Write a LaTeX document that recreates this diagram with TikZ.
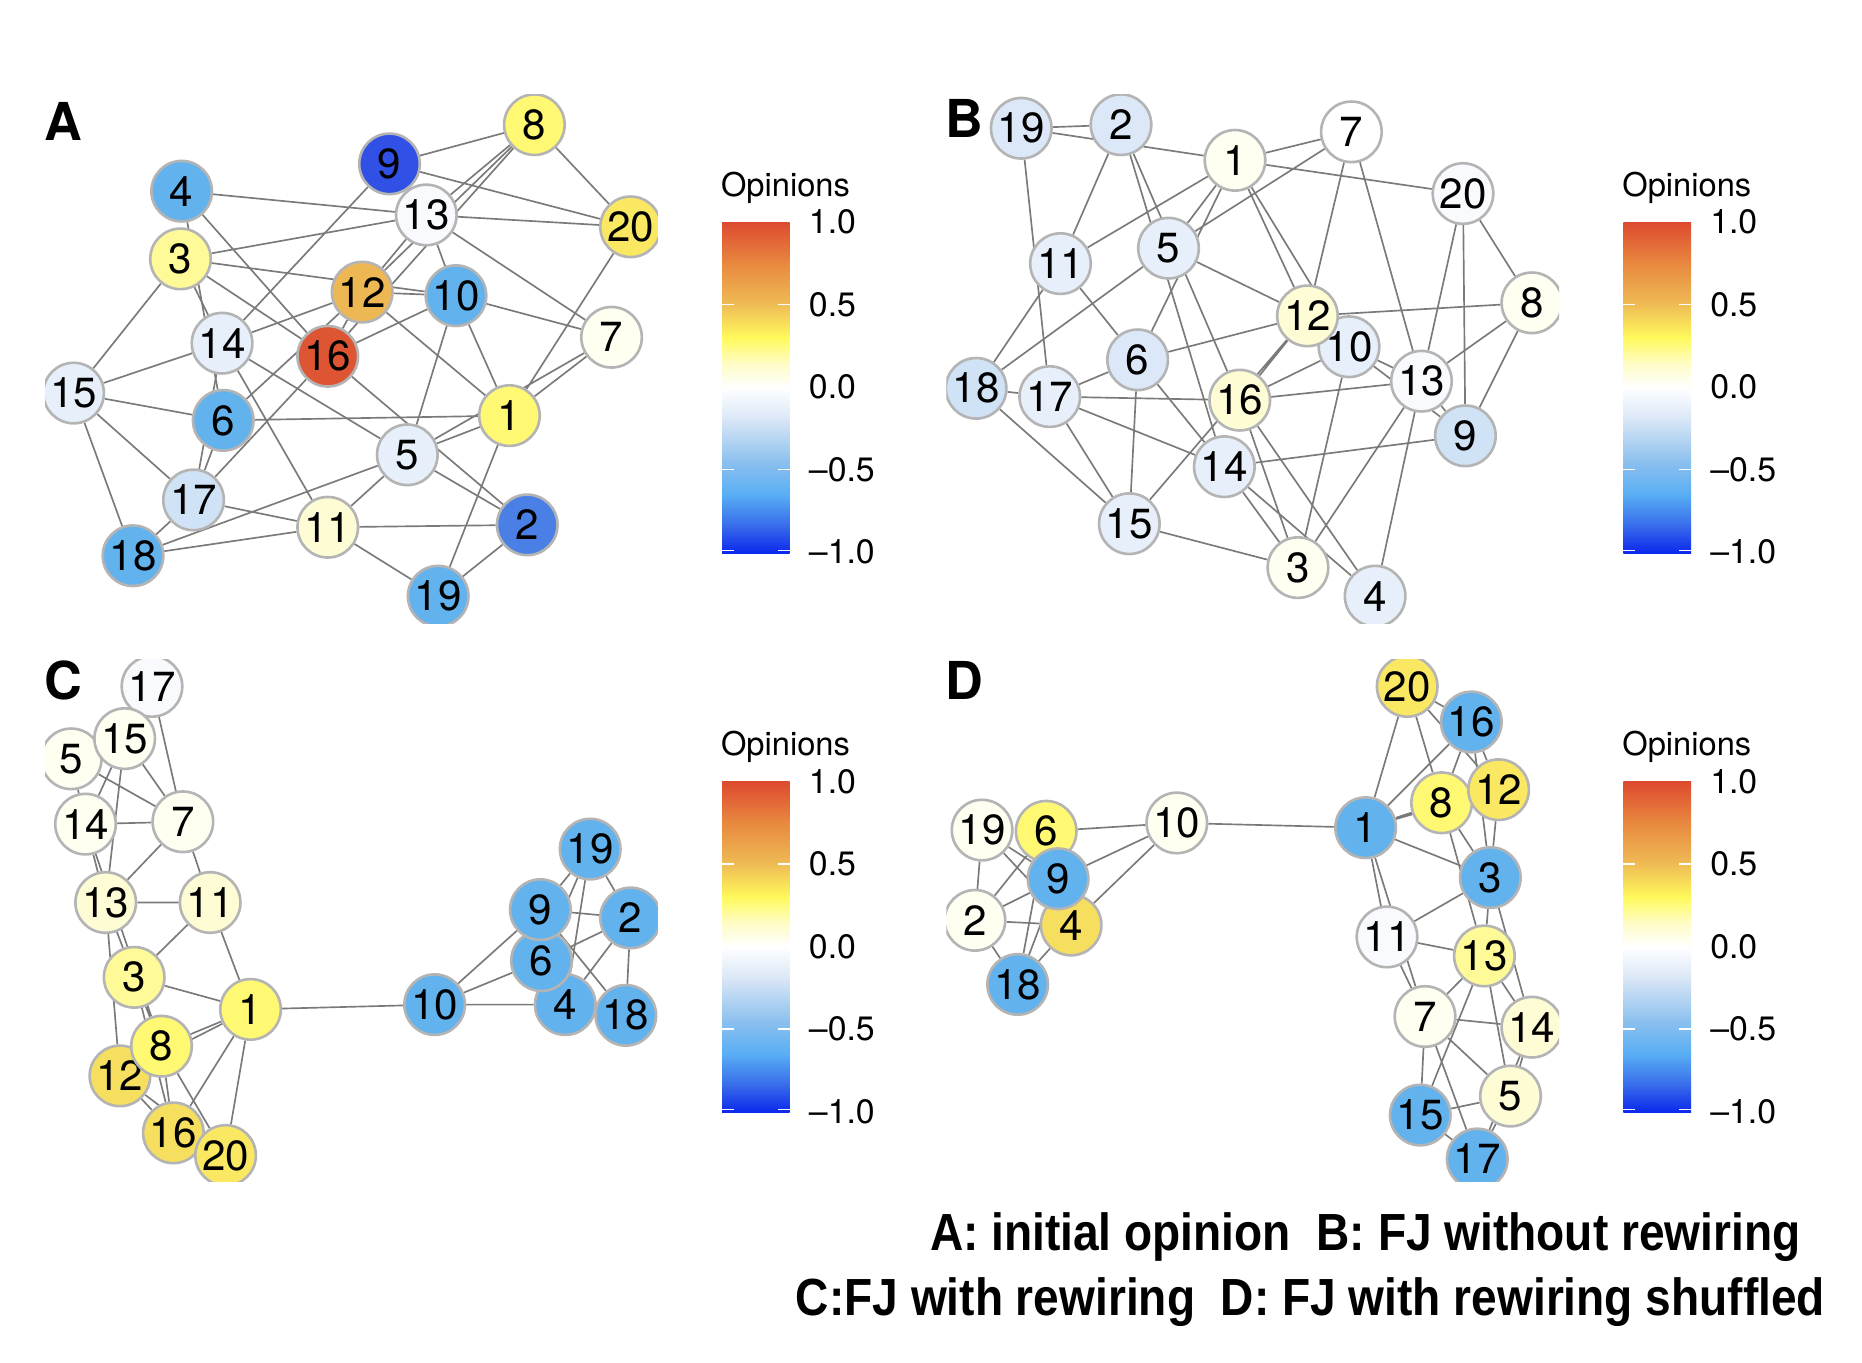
\documentclass[tikz,border=0pt]{standalone}
\usepackage{fontspec}
\setmainfont{TeX Gyre Heros}
\newfontfamily\capfont{Liberation Sans}
\pgfdeclarelayer{paper}
\pgfdeclarelayer{edges}
\pgfsetlayers{paper,edges,main}

\definecolor{edgegray}{HTML}{7A7A7A}
\definecolor{ringgray}{HTML}{B4B4B4}
\definecolor{opnavy}{HTML}{3150E6}
\definecolor{opcobalt}{HTML}{4A80E6}
\definecolor{opsky}{HTML}{62B2EE}
\definecolor{opice}{HTML}{CFE2F6}
\definecolor{opfrost}{HTML}{DCE8F8}
\definecolor{opmist}{HTML}{E7F0FA}
\definecolor{opsnow}{HTML}{F8FAFE}
\definecolor{opcream}{HTML}{FEFEF1}
\definecolor{oplinen}{HTML}{FEFCD4}
\definecolor{oplemon}{HTML}{FFFA98}
\definecolor{opyellow}{HTML}{FFF872}
\definecolor{opgold}{HTML}{FBE862}
\definecolor{opamber}{HTML}{F6DE5E}
\definecolor{oporange}{HTML}{EDB853}
\definecolor{opred}{HTML}{DE5533}
% colour bar stops
\definecolor{cbA}{HTML}{DD4A2F}
\definecolor{cbB}{HTML}{E8883F}
\definecolor{cbC}{HTML}{EFBC55}
\definecolor{cbD}{HTML}{FFFA5C}
\definecolor{cbE}{HTML}{FFFCC4}
\definecolor{cbF}{HTML}{FFFFFF}
\definecolor{cbG}{HTML}{D8E6F6}
\definecolor{cbH}{HTML}{8CC0EE}
\definecolor{cbI}{HTML}{58AEF4}
\definecolor{cbJ}{HTML}{3466EA}
\definecolor{cbK}{HTML}{0A28EC}

\begin{document}
\begin{tikzpicture}[x=1pt,y=-1pt,
  opn/.style={circle, draw=ringgray, line width=2.2pt, fill=#1, minimum size=51pt, inner sep=0pt, font=\fontsize{35.5}{35.5}\selectfont},
  link/.style={draw=edgegray, line width=1.4pt},
  panel/.style={inner sep=0pt, font=\fontsize{44}{44}\selectfont\bfseries},
  barlbl/.style={anchor=west, inner sep=0pt, font=\fontsize{28.5}{28.5}\selectfont},
  barnotch/.style={white, line width=1.2pt},
  keytext/.style={anchor=base west, inner sep=0pt, xscale=0.882, font=\capfont\bfseries\fontsize{44}{46}\selectfont}]

\begin{pgfonlayer}{paper}
\fill[white] (0,0) rectangle (1568,1147);
\end{pgfonlayer}
\useasboundingbox (0,0) rectangle (1568,1147);

%%%%% A: initial opinion
\node[panel] (labA) at (53,102) {A};
\begin{scope}
\clip (38,80) rectangle (554,525);
\node[opn=opyellow] (A8) at (450,105) {8};
\node[opn=opnavy] (A9) at (328,138) {9};
\node[opn=opsky] (A4) at (153,161) {4};
\node[opn=opsnow] (A13) at (359,181) {13};
\node[opn=opgold] (A20) at (531,191) {20};
\node[opn=oplemon] (A3) at (152,218) {3};
\node[opn=oporange] (A12) at (305,246) {12};
\node[opn=opsky] (A10) at (384,249) {10};
\node[opn=opcream] (A7) at (515,284) {7};
\node[opn=opmist] (A14) at (187,289) {14};
\node[opn=opred] (A16) at (276,300) {16};
\node[opn=opmist] (A15) at (62,331) {15};
\node[opn=opsky] (A6) at (188,354) {6};
\node[opn=opyellow] (A1) at (429,350) {1};
\node[opn=opmist] (A5) at (343,383) {5};
\node[opn=opice] (A17) at (163,421) {17};
\node[opn=oplinen] (A11) at (276,444) {11};
\node[opn=opcobalt] (A2) at (444,442) {2};
\node[opn=opsky] (A18) at (112,468) {18};
\node[opn=opsky] (A19) at (369,502) {19};
\end{scope}
\begin{pgfonlayer}{edges}
\draw[link] (A8) -- (A9) (A8) -- (A20) (A9) -- (A20) (A8) -- (A13) (A8) -- (A16) (A8) -- (A12);
\draw[link] (A13) -- (A12) (A12) -- (A16) (A4) -- (A13) (A4) -- (A16) (A4) -- (A6) (A3) -- (A13);
\draw[link] (A3) -- (A10) (A12) -- (A10) (A3) -- (A16) (A3) -- (A14) (A3) -- (A15) (A9) -- (A14);
\draw[link] (A13) -- (A20) (A13) -- (A7) (A13) -- (A10) (A10) -- (A16) (A10) -- (A7) (A10) -- (A1);
\draw[link] (A10) -- (A5) (A12) -- (A1) (A12) -- (A14) (A12) -- (A6) (A14) -- (A15) (A14) -- (A5);
\draw[link] (A14) -- (A11) (A14) -- (A17) (A6) -- (A17) (A6) -- (A1) (A6) -- (A15) (A16) -- (A17);
\draw[link] (A16) -- (A2) (A20) -- (A1) (A7) -- (A1) (A7) -- (A5) (A1) -- (A5) (A1) -- (A19);
\draw[link] (A5) -- (A18) (A5) -- (A11) (A5) -- (A2) (A2) -- (A19) (A11) -- (A2) (A17) -- (A11);
\draw[link] (A11) -- (A19) (A18) -- (A11) (A18) -- (A17) (A18) -- (A15) (A15) -- (A17);
\end{pgfonlayer}

%%%%% B: FJ without rewiring
\node[panel] (labB) at (812,100) {B};
\begin{scope}
\clip (797,80) rectangle (1313,525);
\node[opn=opice] (B18) at (822,327) {18};
\node[opn=opmist] (B17) at (884,334) {17};
\node[opn=opmist] (B10) at (1136,292) {10};
\node[opn=oplinen] (B12) at (1101,266) {12};
\node[opn=opsnow] (B13) at (1197,321) {13};
\node[opn=opice] (B9) at (1234,367) {9};
\node[opn=opfrost] (B19) at (860,108) {19};
\node[opn=opfrost] (B2) at (944,105) {2};
\node[opn=opcream] (B1) at (1040,135) {1};
\node[opn=white] (B7) at (1138,111) {7};
\node[opn=opsnow] (B20) at (1232,163) {20};
\node[opn=opmist] (B11) at (893,222) {11};
\node[opn=opmist] (B5) at (984,209) {5};
\node[opn=opcream] (B8) at (1290,255) {8};
\node[opn=opfrost] (B6) at (958,303) {6};
\node[opn=oplinen] (B16) at (1044,337) {16};
\node[opn=opmist] (B14) at (1031,393) {14};
\node[opn=opmist] (B15) at (951,441) {15};
\node[opn=opcream] (B3) at (1093,478) {3};
\node[opn=opmist] (B4) at (1158,502) {4};
\end{scope}
\begin{pgfonlayer}{edges}
\draw[link] (B19) -- (B2) (B19) -- (B1) (B19) -- (B17) (B2) -- (B11) (B2) -- (B16) (B2) -- (B14);
\draw[link] (B1) -- (B7) (B1) -- (B20) (B1) -- (B11) (B1) -- (B5) (B1) -- (B6) (B7) -- (B5);
\draw[link] (B1) -- (B12) (B1) -- (B10) (B7) -- (B12) (B7) -- (B13) (B20) -- (B13) (B20) -- (B9);
\draw[link] (B20) -- (B8) (B8) -- (B12) (B8) -- (B13) (B8) -- (B9) (B5) -- (B12) (B5) -- (B18);
\draw[link] (B11) -- (B18) (B11) -- (B6) (B6) -- (B12) (B6) -- (B17) (B6) -- (B15) (B6) -- (B14);
\draw[link] (B12) -- (B16) (B12) -- (B15) (B10) -- (B16) (B10) -- (B13) (B13) -- (B9) (B12) -- (B9);
\draw[link] (B16) -- (B13) (B10) -- (B3) (B17) -- (B16) (B17) -- (B14) (B17) -- (B15) (B17) -- (B18);
\draw[link] (B18) -- (B15) (B14) -- (B3) (B16) -- (B3) (B14) -- (B4) (B16) -- (B4) (B13) -- (B3);
\draw[link] (B13) -- (B4) (B9) -- (B14) (B15) -- (B3);
\end{pgfonlayer}

%%%%% C: FJ with rewiring
\node[panel] (labC) at (53,573) {C};
\begin{scope}
\clip (38,555) rectangle (554,995);
\node[opn=opsnow] (C17) at (128,578) {17};
\node[opn=opcream] (C5) at (60,639) {5};
\node[opn=opcream] (C15) at (105,622) {15};
\node[opn=opcream] (C14) at (72,694) {14};
\node[opn=opcream] (C7) at (154,692) {7};
\node[opn=oplinen] (C13) at (89,760) {13};
\node[opn=oplinen] (C11) at (177,760) {11};
\node[opn=oplemon] (C3) at (113,823) {3};
\node[opn=opyellow] (C1) at (211,850) {1};
\node[opn=opamber] (C12) at (101,906) {12};
\node[opn=opyellow] (C8) at (136,881) {8};
\node[opn=opamber] (C16) at (146,954) {16};
\node[opn=opgold] (C20) at (190,973) {20};
\node[opn=opsky] (C10) at (366,846) {10};
\node[opn=opsky] (C19) at (497,715) {19};
\node[opn=opsky] (C2) at (531,773) {2};
\node[opn=opsky] (C4) at (476,846) {4};
\node[opn=opsky] (C18) at (527,855) {18};
\node[opn=opsky] (C6) at (456,809) {6};
\node[opn=opsky] (C9) at (455,766) {9};
\end{scope}
\begin{pgfonlayer}{edges}
\draw[link] (C17) -- (C7) (C15) -- (C7) (C5) -- (C7) (C15) -- (C14) (C15) -- (C13) (C5) -- (C14);
\draw[link] (C14) -- (C7) (C14) -- (C13) (C13) -- (C3) (C3) -- (C8) (C14) -- (C8) (C8) -- (C16);
\draw[link] (C3) -- (C16) (C7) -- (C13) (C7) -- (C11) (C13) -- (C11) (C13) -- (C12) (C11) -- (C3);
\draw[link] (C11) -- (C1) (C3) -- (C1) (C8) -- (C1) (C12) -- (C1) (C1) -- (C16) (C1) -- (C20);
\draw[link] (C8) -- (C20) (C12) -- (C16) (C12) -- (C20) (C1) -- (C10);
\draw[link] (C10) -- (C9) (C10) -- (C6) (C10) -- (C4) (C19) -- (C9) (C19) -- (C6) (C19) -- (C4);
\draw[link] (C19) -- (C2) (C9) -- (C2) (C9) -- (C18) (C2) -- (C6) (C2) -- (C4) (C2) -- (C18);
\draw[link] (C4) -- (C18) (C9) -- (C6) (C6) -- (C4);
\end{pgfonlayer}

%%%%% D: FJ with rewiring shuffled
\node[panel] (labD) at (812,573) {D};
\begin{scope}
\clip (797,555) rectangle (1313,995);
\node[opn=opcream] (D19) at (827,699) {19};
\node[opn=opyellow] (D6) at (881,700) {6};
\node[opn=opamber] (D4) at (902,779) {4};
\node[opn=opsky] (D9) at (891,740) {9};
\node[opn=opcream] (D2) at (821,775) {2};
\node[opn=opsky] (D18) at (857,829) {18};
\node[opn=opcream] (D10) at (991,693) {10};
\node[opn=opgold] (D20) at (1185,578) {20};
\node[opn=opsky] (D16) at (1239,608) {16};
\node[opn=opyellow] (D8) at (1214,676) {8};
\node[opn=opgold] (D12) at (1262,665) {12};
\node[opn=opsky] (D1) at (1150,697) {1};
\node[opn=opsky] (D3) at (1255,739) {3};
\node[opn=opsnow] (D11) at (1168,789) {11};
\node[opn=oplemon] (D13) at (1250,805) {13};
\node[opn=opcream] (D7) at (1200,856) {7};
\node[opn=oplinen] (D14) at (1290,865) {14};
\node[opn=oplinen] (D5) at (1272,923) {5};
\node[opn=opsky] (D15) at (1196,939) {15};
\node[opn=opsky] (D17) at (1244,976) {17};
\end{scope}
\begin{pgfonlayer}{edges}
\draw[link] (D19) -- (D9) (D19) -- (D4) (D19) -- (D2) (D2) -- (D6) (D2) -- (D9) (D2) -- (D4);
\draw[link] (D2) -- (D18) (D6) -- (D10) (D9) -- (D10) (D4) -- (D10) (D18) -- (D9) (D18) -- (D6);
\draw[link] (D18) -- (D4) (D10) -- (D1);
\draw[link] (D20) -- (D16) (D20) -- (D12) (D20) -- (D1) (D20) -- (D8) (D16) -- (D1) (D16) -- (D8);
\draw[link] (D16) -- (D12) (D16) -- (D3) (D1) -- (D8) (D1) -- (D12) (D1) -- (D3) (D1) -- (D11);
\draw[link] (D1) -- (D7) (D11) -- (D7) (D8) -- (D3) (D8) -- (D13) (D12) -- (D3) (D3) -- (D11);
\draw[link] (D3) -- (D13) (D3) -- (D14) (D11) -- (D13) (D13) -- (D7) (D13) -- (D14) (D13) -- (D5);
\draw[link] (D13) -- (D15) (D7) -- (D14) (D7) -- (D5) (D7) -- (D15) (D7) -- (D17) (D14) -- (D5);
\draw[link] (D14) -- (D17) (D5) -- (D15) (D5) -- (D17) (D15) -- (D17);
\end{pgfonlayer}

%%%%% colour bars, one per panel
\foreach \dx/\dy/\p in {0/0/A, 759/0/B, 0/471/C, 759/471/D}{
\begin{scope}[shift={(\dx,\dy)}]
\node[anchor=west, inner sep=0pt, font=\fontsize{27.5}{27.5}\selectfont] (\p-title) at (607,158) {Opinions};
\shade[top color=cbA, bottom color=cbB] (608,187) rectangle (665,222); % 1.0 .. 0.75
\shade[top color=cbB, bottom color=cbC] (608,221.5) rectangle (665,257); % .. 0.5
\shade[top color=cbC, bottom color=cbD] (608,256.5) rectangle (665,285); % .. 0.3
\shade[top color=cbD, bottom color=cbE] (608,284.5) rectangle (665,306);
\shade[top color=cbE, bottom color=cbF] (608,305.5) rectangle (665,326.5); % .. 0.0
\shade[top color=cbF, bottom color=cbG] (608,326) rectangle (665,354);
\shade[top color=cbG, bottom color=cbH] (608,353.5) rectangle (665,389);
\shade[top color=cbH, bottom color=cbI] (608,388.5) rectangle (665,417);
\shade[top color=cbI, bottom color=cbJ] (608,416.5) rectangle (665,445);
\shade[top color=cbJ, bottom color=cbK] (608,444.5) rectangle (665,466);
\draw[barnotch] (608,256.5) -- ++(10,0) (665,256.5) -- ++(-10,0);
\draw[barnotch] (608,395.5) -- ++(10,0) (665,395.5) -- ++(-10,0);
\draw[barnotch] (608,463.5) -- ++(10,0) (665,463.5) -- ++(-10,0);
\node[barlbl] (\p-v1) at (681,187) {1.0};
\node[barlbl] (\p-v2) at (681,256.5) {0.5};
\node[barlbl] (\p-v3) at (681,326) {0.0};
\node[barlbl] (\p-v4) at (681,395.5) {–0.5};
\node[barlbl] (\p-v5) at (681,465) {–1.0};
\end{scope}
}

%%%%% key
\node[keytext] (keyAB) at (783,1053) {A: initial opinion~~B: FJ without rewiring};
\node[keytext] (keyCD) at (670,1108) {C:FJ with rewiring~~D: FJ with rewiring shuffled};

\end{tikzpicture}
\end{document}
